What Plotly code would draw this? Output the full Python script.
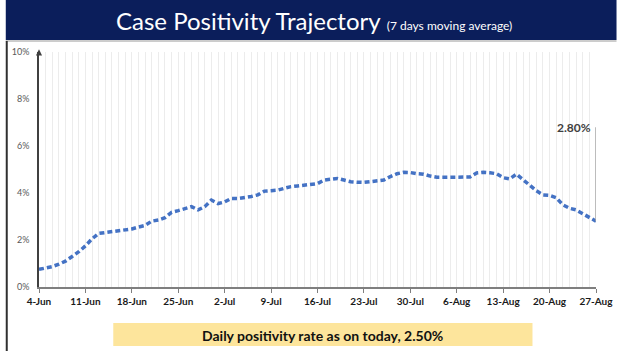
import pandas as pd
import plotly.graph_objects as go

start_date = "2020-06-04"
positivity = [
    0.75, 0.80, 0.87, 0.97, 1.10, 1.30, 1.50, 1.75, 2.05, 2.28,
    2.32, 2.33, 2.38, 2.42, 2.47, 2.55, 2.62, 2.80, 2.85, 2.95,
    3.18, 3.25, 3.32, 3.42, 3.28, 3.42, 3.70, 3.55, 3.62, 3.77,
    3.76, 3.80, 3.85, 3.92, 4.08, 4.10, 4.12, 4.20, 4.27, 4.30,
    4.34, 4.37, 4.40, 4.55, 4.58, 4.62, 4.55, 4.48, 4.46, 4.45,
    4.48, 4.50, 4.55, 4.70, 4.82, 4.88, 4.87, 4.82, 4.80, 4.72,
    4.67, 4.67, 4.67, 4.67, 4.67, 4.68, 4.85, 4.88, 4.86, 4.82,
    4.65, 4.60, 4.80, 4.55, 4.33, 4.10, 3.92, 3.90, 3.80, 3.50,
    3.35, 3.28, 3.12, 2.98, 2.80,
]
dates = pd.date_range(start_date, periods=len(positivity), freq="D")
tick_dates = pd.date_range(start_date, dates[-1], freq="7D")
tick_labels = [f"{d.day}-{d.strftime('%b')}" for d in tick_dates]
y_ticks = [0, 2, 4, 6, 8, 10]
y_labels = [f"{v}%" for v in y_ticks]

title_main = "Case Positivity Trajectory"
title_sub = "(7 days moving average)"
last_label = "2.80%"
footer_text = "Daily positivity rate as on today, 2.50%"

NAVY = "#0b1e5b"
YELLOW = "#fde59c"
LINE = "#4472c4"

fig = go.Figure()
fig.add_trace(go.Scatter(
    x=dates, y=positivity, mode="lines",
    line=dict(color=LINE, width=3.5, dash="5px,3px"),
    hoverinfo="skip", showlegend=False,
))

fig.update_layout(
    width=625, height=351,
    margin=dict(l=34, r=21, t=52, b=64),
    paper_bgcolor="white", plot_bgcolor="white",
    font=dict(family="Lato, sans-serif"),
    xaxis=dict(
        type="date",
        range=[dates[0], dates[-1]],
        tickvals=list(tick_dates), ticktext=tick_labels,
        tickfont=dict(size=10, color="#1a1a1a", family="Lato, sans-serif", weight="bold"),
        showgrid=True, gridcolor="#ececec", gridwidth=1,
        minor=dict(dtick=86400000, showgrid=True, gridcolor="#ececec", gridwidth=1),
        showline=True, linecolor="#7f7f7f", linewidth=1.5,
        ticks="outside", ticklen=4, tickcolor="#7f7f7f",
        zeroline=False, fixedrange=True,
    ),
    yaxis=dict(
        range=[0, 10],
        tickvals=y_ticks, ticktext=y_labels,
        tickfont=dict(size=9, color="#595959", family="Lato, sans-serif"),
        showgrid=False, zeroline=False,
        showline=True, linecolor="#404040", linewidth=1.5,
        ticks="", ticklabelstandoff=6, fixedrange=True,
    ),
    shapes=[
        # title banner
        dict(type="rect", xref="paper", yref="paper", x0=-34/570, x1=1+21/570,
             y0=(287-40)/235, y1=(287+1)/235 + 0.01, fillcolor=NAVY, line_width=0, layer="below"),
        dict(type="line", xref="paper", yref="paper", x0=-34/570, x1=1+21/570,
             y0=(287-41)/235, y1=(287-41)/235, line=dict(color="#9a9a9a", width=1)),
        # left frame edge
        dict(type="line", xref="paper", yref="paper", x0=-33/570, x1=-33/570,
             y0=(287-351)/235, y1=(287-41)/235, line=dict(color="#303030", width=2)),
        # y-axis arrow head
        dict(type="path", xref="paper", yref="paper",
             path="M -0.0055,0.985 L 0,1.012 L 0.0055,0.985 Z",
             fillcolor="#404040", line_width=0),
        # leader line for last value
        dict(type="line", xref="x", yref="y", x0=dates[-1], x1=dates[-1],
             y0=positivity[-1], y1=6.8, line=dict(color="#a6a6a6", width=1.5)),
        # footer banner
        dict(type="rect", xref="paper", yref="paper", x0=(110-34)/570, x1=(539-34)/570,
             y0=(287-346)/235, y1=(287-323)/235, fillcolor=YELLOW, line_width=0),
    ],
    annotations=[
        dict(xref="paper", yref="paper", x=(111-34)/570, y=(287-20)/235,
             xanchor="left", yanchor="middle", showarrow=False,
             text=f"<span style='font-size:24px'>{title_main}</span>"
                  f"<span style='font-size:12px'>  {title_sub}</span>",
             font=dict(color="white", family="Lato, sans-serif")),
        dict(xref="x", yref="y", x=dates[-1], y=6.8, xanchor="right", yanchor="middle",
             xshift=-3, showarrow=False, text=last_label,
             font=dict(size=12, color="#404040", family="Lato, sans-serif", weight="bold")),
        dict(xref="paper", yref="paper", x=(324.5-34)/570, y=(287-335)/235,
             xanchor="center", yanchor="middle", showarrow=False, text=footer_text,
             font=dict(size=14, color="#111111", family="Lato, sans-serif", weight="bold")),
    ],
)

fig.write_html("out.html")
